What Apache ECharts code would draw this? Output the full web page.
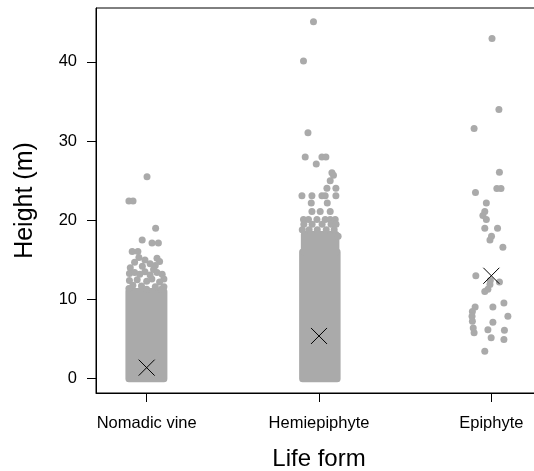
<!DOCTYPE html>
<html>
<head>
<meta charset="utf-8">
<script src="https://cdn.jsdelivr.net/npm/echarts@6/dist/echarts.min.js"></script>
<style>
  html, body { margin: 0; padding: 0; background: #fff; }
  #main { width: 534px; height: 471px; }
</style>
</head>
<body>
<div id="main"></div>
<script>
// categories on the x axis (placed at 1, 2, 3)
var categories = ['Nomadic vine', 'Hemiepiphyte', 'Epiphyte'];
var catPos = [1, 2, 3];
var yTicks = [0, 10, 20, 30, 40];

// mean height per life form (the X marks)
var means = [1.4, 5.4, 13.0];

// packed part of each strip, too dense to read single points: [xFrom, xTo, yFrom, yTo]
var denseBlocks = [
    [0.897, 1.100, 0, 11.0],
    [1.905, 2.105, 0, 16.0],
    [1.915, 2.098, 16.0, 18.2]
];

// jittered points: [x, height]
var nomadicVine = [
    [1.002, 25.5], [0.897, 22.45], [0.921, 22.45], [1.052, 19.0], [0.974, 17.5],
    [1.031, 17.15], [1.068, 17.15], [0.916, 16.05], [0.949, 16.05],
    [0.955, 15.3], [0.99, 15.0], [1.06, 15.2], [1.075, 14.8], [1.05, 14.3],
    [0.93, 14.7], [0.905, 14.0], [0.975, 14.2], [1.02, 14.5], [1.04, 13.8],
    [0.9, 13.3], [0.93, 13.4], [0.96, 13.2], [0.99, 13.5], [1.02, 13.1],
    [1.06, 13.4], [1.09, 13.2], [1.1, 12.6], [0.9, 12.4], [0.945, 12.5],
    [1.0, 12.3], [1.03, 12.6], [1.075, 12.2], [0.92, 11.8], [0.97, 11.7],
    [1.05, 11.6], [1.1, 11.6], [0.897, 11.4], [1.0, 11.3], [1.085, 11.3]
];
var hemiepiphyte = [
    [1.968, 45.05], [1.910, 40.1], [1.936, 31.06], [1.920, 28.0], [2.017, 28.0],
    [2.040, 28.0], [1.984, 27.1], [2.075, 26.0], [2.084, 25.7], [2.065, 25.0],
    [2.046, 24.05], [2.098, 24.05],
    [1.901, 23.1], [1.959, 23.1], [2.017, 23.1], [2.036, 23.1], [2.098, 23.1],
    [1.955, 22.2], [2.048, 22.2],
    [1.959, 21.1], [2.007, 21.1], [2.065, 21.1],
    [1.910, 20.1], [1.939, 20.1], [1.988, 20.1], [2.036, 20.1], [2.065, 20.1], [2.094, 20.1],
    [1.912, 19.5], [1.960, 19.5], [2.018, 19.5], [2.070, 19.5], [2.099, 19.5],
    [1.903, 18.8], [1.943, 18.8], [1.990, 18.8], [2.042, 18.8], [2.088, 18.8], [2.111, 18.0]
];
var epiphyte = [
    [3.004, 42.95], [3.044, 34.0], [2.900, 31.6], [3.047, 26.07], [3.032, 24.0],
    [3.056, 24.0], [2.908, 23.5], [2.971, 22.2], [2.962, 21.1], [2.951, 20.6],
    [2.971, 20.1], [2.962, 19.0], [3.036, 19.0], [3.001, 18.0], [2.992, 17.5],
    [3.067, 16.6], [2.910, 13.0], [3.047, 12.2], [2.992, 11.9], [2.980, 11.3],
    [2.962, 11.0], [2.994, 12.4], [2.906, 9.07], [2.890, 8.5], [2.888, 7.9],
    [2.890, 7.25], [2.895, 6.4], [2.900, 5.8], [3.009, 9.07], [3.073, 9.57],
    [3.096, 7.9], [3.009, 7.13], [2.980, 6.2], [3.076, 6.12], [2.999, 5.16],
    [3.073, 4.95], [2.962, 3.48]
];

var grey = '#aaaaaa';
var font = 'Liberation Sans, Arial, sans-serif';

var meanData = means.map(function (m, i) { return [catPos[i], m]; });

var chart = echarts.init(document.getElementById('main'));
var option = {
    animation: false,
    grid: {
        left: 96,
        top: 8,
        right: -8,
        bottom: 78,
        containLabel: false,
        outerBoundsMode: 'none',
        show: true,
        borderColor: '#000',
        borderWidth: 1
    },
    xAxis: {
        type: 'value',
        min: 0.706,
        max: 3.294,
        name: 'Life form',
        nameLocation: 'middle',
        nameGap: 54,
        nameTextStyle: { fontFamily: font, fontSize: 24, color: '#000' },
        axisLine: { show: true, onZero: false, lineStyle: { color: '#000', width: 1 } },
        axisTick: { show: true, inside: false, length: 9, customValues: catPos, lineStyle: { color: '#000' } },
        axisLabel: {
            customValues: catPos,
            margin: 22,
            fontFamily: font,
            fontSize: 16.5,
            color: '#000',
            formatter: function (v) { return categories[Math.round(v) - 1]; }
        },
        splitLine: { show: false }
    },
    yAxis: {
        type: 'value',
        min: -1.8,
        max: 46.8,
        name: 'Height (m)',
        nameLocation: 'middle',
        nameRotate: 90,
        nameGap: 58,
        nameTextStyle: { fontFamily: font, fontSize: 25, color: '#000' },
        axisLine: { show: true, onZero: false, lineStyle: { color: '#000', width: 1 } },
        axisTick: { show: true, inside: false, length: 9, customValues: yTicks, lineStyle: { color: '#000' } },
        axisLabel: {
            customValues: yTicks,
            margin: 19,
            fontFamily: font,
            fontSize: 16.5,
            color: '#000'
        },
        splitLine: { show: false }
    },
    series: [
        {
            type: 'custom',
            data: denseBlocks,
            z: 2,
            renderItem: function (params, api) {
                var r = 3.5;
                var p0 = api.coord([api.value(0), api.value(3)]);
                var p1 = api.coord([api.value(1), api.value(2)]);
                return {
                    type: 'rect',
                    shape: {
                        x: p0[0] - r,
                        y: p0[1] - r,
                        width: p1[0] - p0[0] + 2 * r,
                        height: p1[1] - p0[1] + 2 * r,
                        r: r
                    },
                    style: { fill: grey }
                };
            }
        },
        { type: 'scatter', data: nomadicVine, symbolSize: 7, itemStyle: { color: grey, opacity: 1 }, z: 3 },
        { type: 'scatter', data: hemiepiphyte, symbolSize: 7, itemStyle: { color: grey, opacity: 1 }, z: 3 },
        { type: 'scatter', data: epiphyte, symbolSize: 7, itemStyle: { color: grey, opacity: 1 }, z: 3 },
        {
            type: 'scatter',
            data: meanData,
            symbol: 'path://M0,0L10,10M10,0L0,10',
            symbolSize: 16,
            itemStyle: { color: 'none', borderColor: '#000', borderWidth: 1, opacity: 1 },
            z: 5
        }
    ]
};
chart.setOption(option);
</script>
</body>
</html>
